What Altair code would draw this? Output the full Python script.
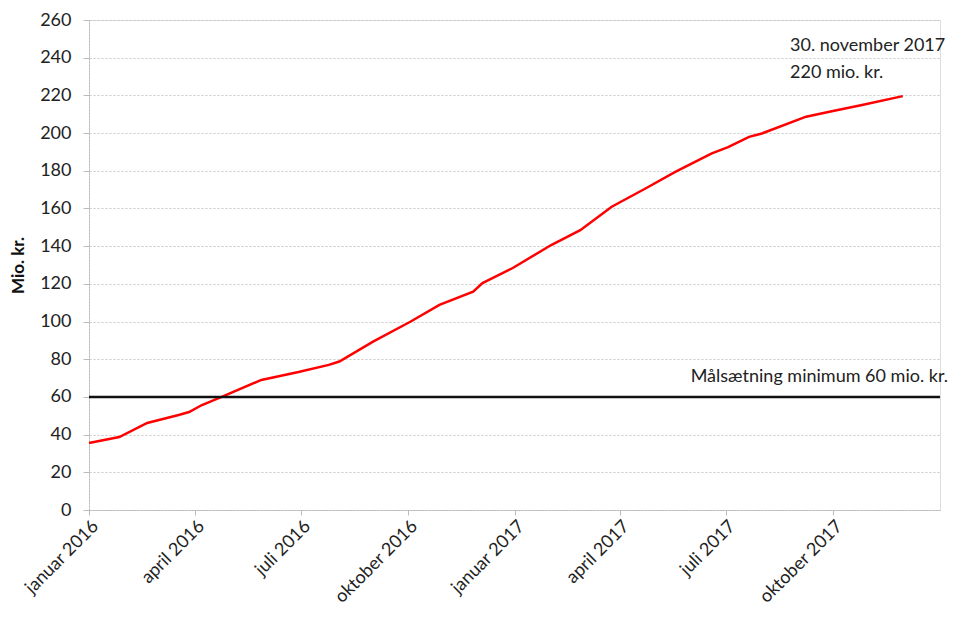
import altair as alt
import pandas as pd

# Data
dates = [
    "2016-01-01", "2016-01-27", "2016-02-20", "2016-03-18", "2016-03-27",
    "2016-04-07", "2016-04-24", "2016-05-28", "2016-06-29", "2016-07-25",
    "2016-08-03", "2016-09-01", "2016-10-03", "2016-10-28", "2016-11-26",
    "2016-12-04", "2016-12-30", "2017-02-01", "2017-02-26", "2017-03-25",
    "2017-04-23", "2017-05-19", "2017-06-19", "2017-07-03", "2017-07-21",
    "2017-08-01", "2017-09-08", "2017-09-28", "2017-10-26", "2017-11-30",
]
values = [
    35.5, 38.7, 46.2, 50.4, 52.0,
    55.7, 60.0, 69.0, 73.2, 77.0,
    78.8, 89.3, 99.9, 108.8, 115.8,
    120.4, 128.4, 140.6, 148.5, 160.9,
    170.6, 179.5, 189.2, 192.5, 198.0,
    199.8, 208.7, 211.3, 214.9, 219.6,
]
target_value = 60
target_label = "Målsætning minimum 60 mio. kr."
end_label_1 = "30. november  2017"
end_label_2 = "220 mio. kr."
y_ticks = list(range(0, 261, 20))
x_ticks = ["2016-01-01", "2016-04-01", "2016-07-01", "2016-10-01",
           "2017-01-01", "2017-04-01", "2017-07-01", "2017-10-01"]
month_names = ["januar", "februar", "marts", "april", "maj", "juni", "juli",
               "august", "september", "oktober", "november", "december"]

df = pd.DataFrame({"date": pd.to_datetime(dates), "value": values})

FONT = "Lato"
FS = 18
W, H = 851, 490

x_enc = alt.X(
    "date:T",
    scale=alt.Scale(domain=[{"year": 2016, "month": 1, "date": 1},
                            {"year": 2018, "month": 1, "date": 1}]),
    axis=alt.Axis(
        values=[{"year": int(d[:4]), "month": int(d[5:7]), "date": 1} for d in x_ticks],
        labelExpr="['" + "','".join(month_names) + "'][month(datum.value)] + ' ' + year(datum.value)",
        labelAngle=-45, labelAlign="right", labelBaseline="top",
        labelFont=FONT, labelFontSize=18, labelColor="#222",
        labelPadding=2, labelOverlap=False, labelFlush=False,
        grid=False, domainColor="#bbbbbb", domainDash=[2, 1],
        tickColor="#bbbbbb", tickSize=5, title=None,
    ),
    title=None,
)

y_axis = alt.Axis(
    values=y_ticks, grid=True, gridColor="#c8c8c8", gridDash=[2, 2],
    gridWidth=1.2, labelOverlap=False, labelFlush=False,
    labelFont=FONT, labelFontSize=FS, labelColor="#222",
    labelPadding=12, tickColor="#bbbbbb", tickSize=6,
    domainColor="#bbbbbb", domainDash=[2, 1],
    title="Mio. kr.", titleFont=FONT, titleFontSize=FS - 1,
    titleFontWeight="bold", titleColor="#111", titlePadding=12,
)
y_scale = alt.Scale(domain=[0, 260], nice=False)

line = alt.Chart(df).mark_line(color="#ff0000", strokeWidth=2.5).encode(
    x=x_enc, y=alt.Y("value:Q", scale=y_scale, axis=y_axis)
)

rule = alt.Chart(pd.DataFrame({"value": [target_value]})).mark_rule(
    color="#111", strokeWidth=2.5
).encode(y=alt.Y("value:Q", scale=y_scale, axis=y_axis))

target_text = alt.Chart(pd.DataFrame({"t": [target_label]})).mark_text(
    align="right", baseline="middle", font=FONT, fontSize=FS, color="#222"
).encode(text="t:N", x=alt.value(859), y=alt.value(357))

end_text_1 = alt.Chart(pd.DataFrame({"t": [end_label_1]})).mark_text(
    align="left", baseline="middle", font=FONT, fontSize=FS, color="#222"
).encode(text="t:N", x=alt.value(701), y=alt.value(26))

end_text_2 = alt.Chart(pd.DataFrame({"t": [end_label_2]})).mark_text(
    align="left", baseline="middle", font=FONT, fontSize=FS, color="#222"
).encode(text="t:N", x=alt.value(701), y=alt.value(53))

chart = alt.layer(line, rule, target_text, end_text_1, end_text_2).properties(
    width=W, height=H,
    autosize=alt.AutoSizeParams(type="none"),
    padding={"left": 81, "top": 12, "right": 9, "bottom": 99},
).configure_view(stroke=None).configure(background="white")

chart.save("out.html", embed_options={"renderer": "svg", "actions": False})
